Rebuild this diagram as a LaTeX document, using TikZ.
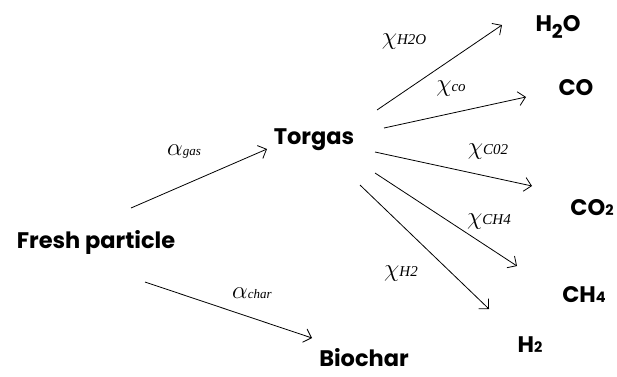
\documentclass[tikz,border=0pt]{standalone}
\usepackage{fontspec}
\setmainfont{Liberation Serif}
\newfontfamily\labfont{Poppins}[UprightFont=* SemiBold,BoldFont=* Bold]
\usetikzlibrary{arrows.meta}
\newcommand\chem[1]{{\fontsize{14.5}{14.5}\selectfont #1}}
\newcommand\chilab[2]{{\fontsize{26}{26}\selectfont$\chi$}{\fontsize{#2}{#2}\selectfont\textit{#1}}}
\newcommand\alab[1]{{\fontsize{24}{24}\selectfont$\alpha$}{\fontsize{13}{13}\selectfont\textit{#1}}}
\tikzset{
  species/.style={font=\labfont\bfseries\fontsize{22.5}{22.5}\selectfont, inner sep=0pt},
  rate/.style={inner sep=0pt},
  react/.style={line width=0.8pt, -{Straight Barb[length=7pt,width=14pt,line width=0.8pt]}},
}
\begin{document}
\begin{tikzpicture}[x=1pt,y=-1pt]
\useasboundingbox (0,0) rectangle (617,376);
% species
\node[species] (fresh) at (96,242) {Fresh particle};
\node[species] (torgas) at (314,140) {Torgas};
\node[species] (biochar) at (364,358) {Biochar};
\node[species] (h2o) at (558,27) {H\raisebox{-7pt}{\fontsize{19}{19}\selectfont 2}O};
\node[species] (co) at (576,88) {CO};
\node[species] (co2) at (592,208) {CO\chem{2}};
\node[species] (ch4) at (584,295) {CH\chem{4}};
\node[species] (h2) at (530,345) {H\chem{2}};
% rate labels
\node[rate] (agas) at (184,152) {\alab{gas}};
\node[rate] (achar) at (252,293) {\alab{char}};
\node[rate] (xh2o) at (404,42) {\chilab{H2O}{15}};
\node[rate] (xco) at (451,89) {\chilab{co}{15}};
\node[rate] (xco2) at (488,152) {\chilab{C02}{15}};
\node[rate] (xch4) at (489,222) {\chilab{CH4}{15}};
\node[rate] (xh2) at (401,274) {\chilab{H2}{15}};
% arrow ends
\coordinate (f1) at (131,208); \coordinate (t1) at (267,149);
\coordinate (f2) at (145,282); \coordinate (b1) at (312,338);
\coordinate (s1) at (377,110); \coordinate (e1) at (502,25);
\coordinate (s2) at (384,128); \coordinate (e2) at (526,97);
\coordinate (s3) at (375,152); \coordinate (e3) at (532,186);
\coordinate (s4) at (375,173); \coordinate (e4) at (517,266);
\coordinate (s5) at (360,185); \coordinate (e5) at (489,309);
\draw[react] (f1) -- (t1);
\draw[react] (f2) -- (b1);
\draw[react] (s1) -- (e1);
\draw[react] (s2) -- (e2);
\draw[react] (s3) -- (e3);
\draw[react] (s4) -- (e4);
\draw[react] (s5) -- (e5);
\end{tikzpicture}
\end{document}
